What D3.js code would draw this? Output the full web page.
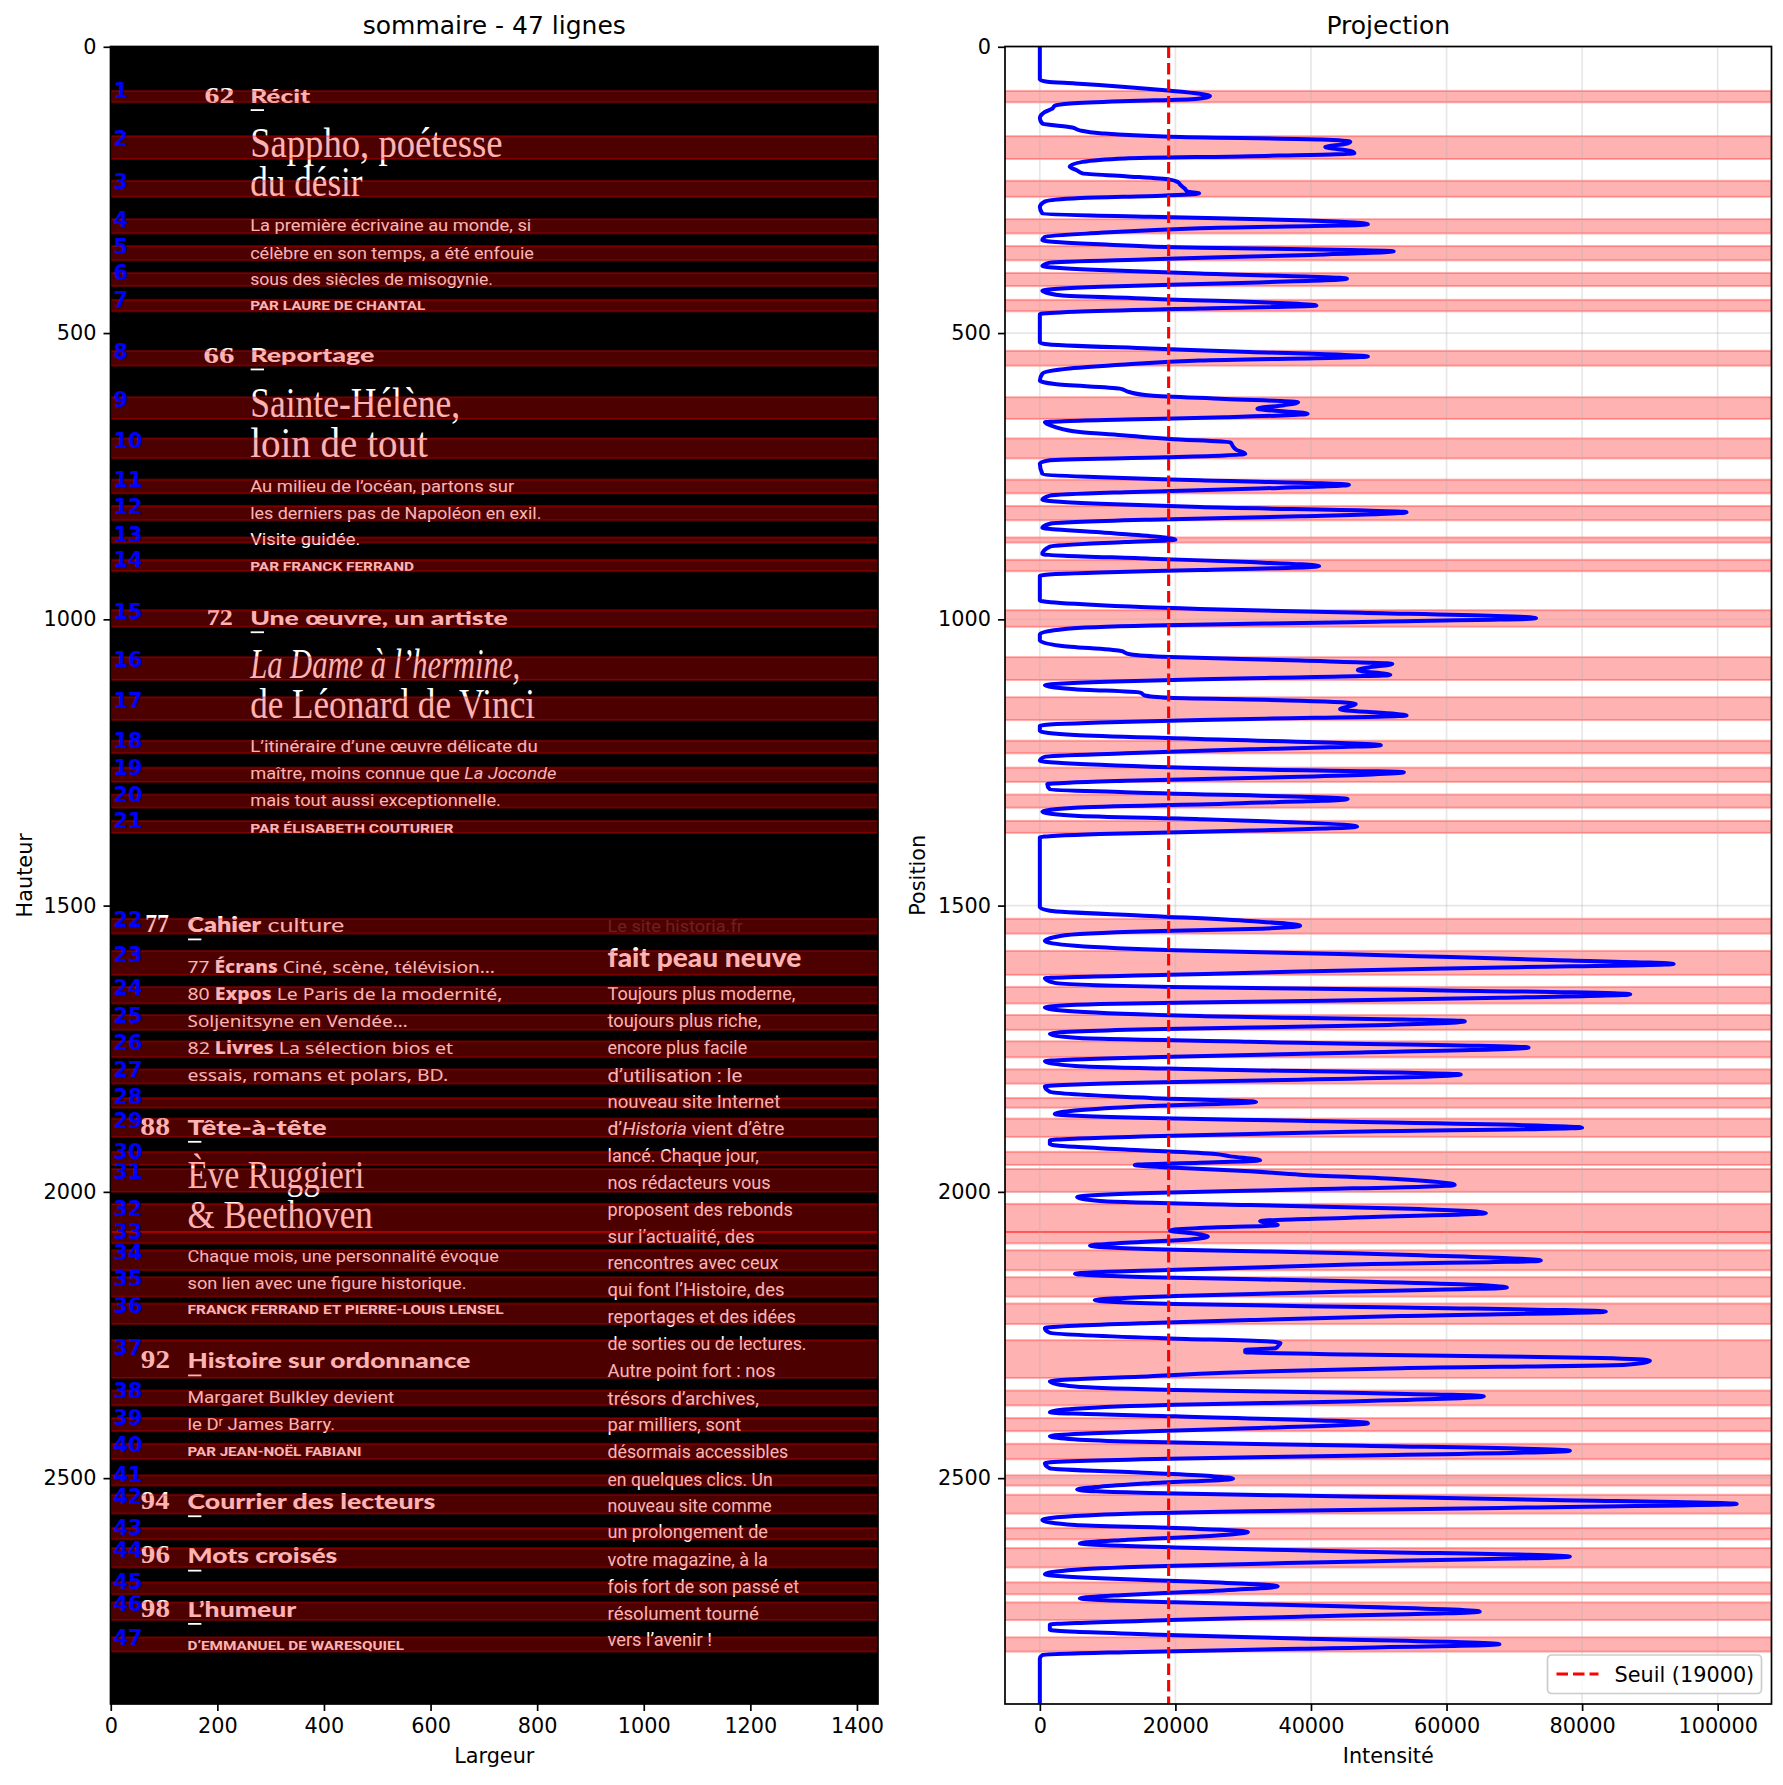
<!DOCTYPE html>
<html>
<head>
<meta charset="utf-8">
<script src="https://cdn.jsdelivr.net/npm/d3@7"></script>
<style>
  body { margin: 0; background: #fff; }
  svg { display: block; font-family: 'DejaVu Sans', sans-serif; }
</style>
</head>
<body>
<svg id="chart" width="1783" height="1785"></svg>
<script>
/* global d3 */

const imgWidth = 1440;
const imgHeight = 2895;
const threshold = 19000;

const xTicksImg = [0, 200, 400, 600, 800, 1000, 1200, 1400];
const yTicks = [0, 500, 1000, 1500, 2000, 2500];
const xTicksInt = [0, 20000, 40000, 60000, 80000, 100000];

// detected text lines [start, end] (rows of the page image)
const lineBands = [
  [77, 97], [156, 196], [234, 262], [301, 326], [348, 373], [395, 418], [442, 462],
  [531, 557], [612, 650], [684, 719], [756, 780], [802, 827], [857, 866], [896, 916],
  [984, 1013], [1066, 1106], [1136, 1176], [1212, 1234], [1259, 1284], [1306, 1329],
  [1352, 1373], [1523, 1549], [1579, 1621], [1642, 1671], [1691, 1717], [1737, 1765],
  [1786, 1811], [1836, 1853], [1872, 1904], [1930, 1953], [1960, 2000], [2021, 2070],
  [2070, 2090], [2102, 2137], [2149, 2183], [2195, 2231], [2259, 2325], [2347, 2373],
  [2395, 2418], [2440, 2467], [2495, 2513], [2529, 2562], [2587, 2607], [2622, 2656],
  [2682, 2703], [2717, 2748], [2778, 2803]
];

// horizontal projection [row, intensity]
const profile = [
  [0, 0], [57, 0], [61, 1100], [64, 5200], [76, 18500], [82, 23600], [86, 25100], [91, 23000],
  [95, 12000], [99, 4500], [103, 2200], [108, 1850], [114, 740], [125, 0], [134, 370],
  [141, 4800], [146, 5900], [151, 8900], [157, 19200], [162, 41400], [166, 45800], [170, 45000],
  [175, 42100], [182, 45800], [186, 46400], [191, 31000], [195, 12600], [201, 6300], [209, 4400],
  [216, 5500], [221, 6300], [226, 12600], [232, 19200], [236, 20300], [242, 20800], [248, 21400],
  [253, 21800], [256, 23500], [260, 18000], [264, 6000], [270, 800], [280, 0], [291, 370],
  [297, 16300], [303, 38400], [310, 48400], [317, 23600], [325, 8900], [332, 740], [338, 370],
  [345, 8900], [351, 23600], [355, 45800], [357, 52200], [364, 38400], [371, 16300], [377, 1500],
  [383, 370], [390, 8900], [396, 23600], [405, 45300], [412, 31000], [419, 8900], [426, 370],
  [434, 3000], [440, 16300], [452, 40800], [457, 23600], [463, 5200], [467, 0], [516, 0],
  [519, 740], [527, 16300], [533, 31000], [541, 48400], [548, 23600], [555, 12600], [562, 4400],
  [571, 370], [583, 0], [589, 2200], [597, 11800], [603, 13150], [609, 16300], [615, 27300],
  [621, 38100], [626, 36000], [632, 32100], [641, 39500], [647, 27300], [651, 12600], [656, 740],
  [664, 2200], [673, 5900], [679, 12600], [685, 19200], [691, 28100], [698, 28500], [704, 29000],
  [711, 30300], [717, 18500], [722, 1480], [728, 0], [746, 370], [752, 8900], [757, 23600],
  [765, 45600], [772, 31000], [778, 12600], [784, 1480], [791, 370], [798, 8900], [804, 23600],
  [813, 54100], [820, 38400], [826, 16300], [833, 1480], [840, 370], [848, 8900], [861, 20000],
  [865, 12600], [873, 1480], [886, 370], [894, 16300], [900, 31000], [907, 41200], [914, 23600],
  [918, 8900], [924, 0], [967, 0], [973, 5200], [982, 23600], [988, 45800], [998, 73200],
  [1005, 45800], [1011, 16300], [1017, 3700], [1026, 0], [1037, 0], [1046, 3000], [1055, 11800],
  [1061, 13300], [1066, 19200], [1072, 38400], [1078, 52000], [1084, 48500], [1089, 46900],
  [1097, 51700], [1103, 31000], [1108, 12600], [1115, 740], [1122, 5200], [1128, 14800],
  [1133, 15500], [1137, 19200], [1142, 38400], [1148, 46600], [1157, 44300], [1168, 54100],
  [1174, 31000], [1180, 8900], [1186, 0], [1195, 0], [1202, 5200], [1209, 23600], [1220, 50300],
  [1227, 31000], [1234, 12600], [1240, 740], [1247, 0], [1254, 8900], [1262, 31000],
  [1267, 53700], [1275, 38400], [1282, 12600], [1288, 1100], [1297, 1480], [1302, 12600],
  [1314, 45400], [1322, 27300], [1329, 5200], [1336, 370], [1343, 5200], [1349, 23600],
  [1362, 46800], [1369, 31000], [1375, 8900], [1381, 0], [1503, 0], [1509, 1480], [1518, 16300],
  [1527, 31000], [1535, 38400], [1541, 31000], [1545, 16300], [1553, 3000], [1562, 740],
  [1570, 5200], [1578, 20000], [1585, 45800], [1590, 60600], [1595, 75400], [1602, 93500],
  [1608, 68000], [1615, 38400], [1621, 19200], [1627, 740], [1635, 2200], [1642, 19200],
  [1647, 53200], [1655, 87100], [1661, 68000], [1668, 31000], [1672, 8900], [1678, 740],
  [1685, 5200], [1693, 23600], [1702, 62700], [1710, 45800], [1716, 16300], [1724, 1480],
  [1731, 5200], [1738, 31000], [1748, 72100], [1757, 45800], [1765, 16300], [1772, 740],
  [1780, 5200], [1786, 23600], [1795, 62100], [1804, 38400], [1809, 16300], [1816, 740],
  [1825, 1480], [1836, 16300], [1843, 31900], [1850, 16300], [1858, 5200], [1864, 2200],
  [1871, 16300], [1876, 38400], [1888, 80000], [1895, 45800], [1903, 16300], [1910, 1480],
  [1917, 1480], [1926, 12600], [1934, 25900], [1938, 28100], [1945, 32500], [1949, 23600],
  [1953, 14000], [1958, 20000], [1964, 31000], [1970, 38400], [1978, 53200], [1988, 61200],
  [1996, 38400], [2002, 16300], [2009, 5500], [2016, 8900], [2023, 31000], [2029, 53200],
  [2037, 65800], [2045, 45800], [2051, 32500], [2058, 35100], [2063, 23600], [2068, 19200],
  [2072, 22200], [2078, 24800], [2083, 22200], [2089, 12600], [2094, 7400], [2101, 20000],
  [2107, 45800], [2111, 56900], [2120, 73900], [2127, 45800], [2136, 20000], [2143, 5200],
  [2149, 16300], [2156, 45800], [2167, 68900], [2174, 45800], [2182, 20000], [2189, 8100],
  [2196, 20000], [2202, 53200], [2209, 83500], [2217, 53200], [2224, 31000], [2229, 16300],
  [2238, 740], [2246, 1480], [2256, 19200], [2261, 33300], [2264, 35500], [2270, 35100],
  [2273, 34800], [2276, 30300], [2280, 30300], [2284, 45800], [2290, 82800], [2295, 90000],
  [2302, 86500], [2308, 53200], [2316, 27300], [2322, 16300], [2331, 1480], [2340, 5200],
  [2346, 20000], [2351, 45800], [2357, 65500], [2366, 45800], [2372, 20000], [2379, 5200],
  [2385, 1480], [2392, 20000], [2404, 48400], [2413, 31000], [2418, 16300], [2427, 1480],
  [2436, 12600], [2443, 45800], [2452, 78200], [2461, 45800], [2466, 19200], [2474, 740],
  [2483, 1480], [2491, 16300], [2501, 28500], [2509, 16300], [2515, 8900], [2520, 5500],
  [2526, 16300], [2532, 45800], [2538, 75400], [2545, 102800], [2552, 68000], [2558, 31000],
  [2564, 8900], [2573, 370], [2582, 5200], [2587, 20000], [2594, 30700], [2602, 23600],
  [2608, 12600], [2614, 5900], [2621, 20000], [2628, 45800], [2637, 78200], [2646, 45800],
  [2653, 20000], [2660, 5200], [2668, 740], [2675, 8900], [2681, 23600], [2689, 35100],
  [2698, 23600], [2704, 12600], [2710, 5900], [2717, 20000], [2724, 45800], [2733, 64900],
  [2742, 38400], [2748, 19200], [2756, 1480], [2765, 1480], [2773, 16300], [2780, 38400],
  [2790, 67800], [2798, 38400], [2804, 12600], [2809, 370], [2815, 0], [2895, 0]
];

// page image text: [font, x start, x end, baseline row, size px, runs, heading mark]
const pageLines = [
  ['num', 176, 232, 98, 24, '62'],
  ['head', 261.5, 374, 98, 18, 'Récit', true],
  ['serif', 261.5, 735, 193, 43, 'Sappho, poétesse'],
  ['serif', 261.5, 472.5, 261, 43, 'du désir'],
  ['body', 261.5, 789, 322, 17, 'La première écrivaine au monde, si'],
  ['body', 261.5, 794, 370, 17, 'célèbre en son temps, a été enfouie'],
  ['body', 261.5, 717, 415.5, 17, 'sous des siècles de misogynie.'],
  ['caps', 261.5, 590, 460, 12.5, 'PAR LAURE DE CHANTAL'],
  ['num', 174, 232, 553, 24, '66'],
  ['head', 261.5, 494.5, 551, 18, 'Reportage', true],
  ['serif', 261.5, 655.5, 647, 42, 'Sainte-Hélène,'],
  ['serif', 261.5, 595, 717, 42, 'loin de tout'],
  ['body', 261.5, 757, 778, 17, 'Au milieu de l’océan, partons sur'],
  ['body', 261.5, 808, 824.5, 17, 'les derniers pas de Napoléon en exil.'],
  ['body', 261.5, 468.5, 870, 17, 'Visite guidée.'],
  ['caps', 261.5, 569, 916, 12.5, 'PAR FRANCK FERRAND'],
  ['num', 180, 229, 1010, 24, '72'],
  ['head', 261.5, 745, 1010, 19, 'Une œuvre, un artiste', true],
  ['serifI', 261.5, 768, 1102.5, 42, 'La Dame à l’hermine,'],
  ['serif', 261.5, 796, 1172.5, 42, 'de Léonard de Vinci'],
  ['body', 261.5, 801, 1232.5, 17, 'L’itinéraire d’une œuvre délicate du'],
  ['body', 261.5, 836, 1279, 17, [['maître, moins connue que ', 'n'], ['La Joconde', 'i']]],
  ['body', 261.5, 732, 1325.5, 17, 'mais tout aussi exceptionnelle.'],
  ['caps', 261.5, 643, 1372.5, 12.5, 'PAR ÉLISABETH COUTURIER'],
  ['num', 64.5, 109, 1546, 26, '77'],
  ['head', 144, 438, 1546.5, 20, [['Cahier', 'b'], [' culture', 'n']], true],
  ['faint', 932, 1186, 1546, 17, 'Le site historia.fr'],
  ['head', 932, 1295.5, 1607, 27, 'fait peau neuve'],
  ['round', 144, 721, 1617, 17, [['77 ', 'n'], ['Écrans', 'b'], [' Ciné, scène, télévision…', 'n']]],
  ['round', 144, 735, 1665, 17, [['80 ', 'n'], ['Expos', 'b'], [' Le Paris de la modernité,', 'n']]],
  ['round', 144, 557, 1712, 17, 'Soljenitsyne en Vendée…'],
  ['round', 144, 642, 1760, 17, [['82 ', 'n'], ['Livres', 'b'], [' La sélection bios et', 'n']]],
  ['round', 144, 633, 1806.5, 17, 'essais, romans et polars, BD.'],
  ['num', 55.5, 111, 1901, 26, '88'],
  ['head', 144, 405, 1900, 20, 'Tête-à-tête', true],
  ['serif', 144, 475.5, 1993, 39, 'Ève Ruggieri'],
  ['serif', 144, 491.5, 2063, 39, '& Beethoven'],
  ['body', 144, 728, 2122.5, 17, 'Chaque mois, une personnalité évoque'],
  ['body', 144, 667.5, 2169, 17, 'son lien avec une figure historique.'],
  ['caps', 144, 737, 2214, 13.5, 'FRANCK FERRAND ET PIERRE-LOUIS LENSEL'],
  ['num', 56.5, 111, 2308, 26, '92'],
  ['head', 144, 674.5, 2308, 21, 'Histoire sur ordonnance', true],
  ['body', 144, 532, 2369, 17, 'Margaret Bulkley devient'],
  ['body', 144, 421, 2415.5, 17, 'le Dʳ James Barry.'],
  ['caps', 144, 470.5, 2461, 13, 'PAR JEAN-NOËL FABIANI'],
  ['num', 56.5, 110, 2554, 26, '94'],
  ['head', 144, 609, 2554, 20, 'Courrier des lecteurs', true],
  ['num', 56.5, 111, 2649, 26, '96'],
  ['head', 144, 425, 2649, 21, 'Mots croisés', true],
  ['num', 56.5, 111, 2742, 26, '98'],
  ['head', 144, 348, 2742, 21, 'L’humeur', true],
  ['caps', 144, 550, 2800, 13, 'D’EMMANUEL DE WARESQUIEL'],
  ['body', 932, 1284.5, 1665.5, 18, 'Toujours plus moderne,'],
  ['body', 932, 1220, 1712, 18, 'toujours plus riche,'],
  ['body', 932, 1194, 1760, 18, 'encore plus facile'],
  ['body', 932, 1185, 1808, 18, 'd’utilisation : le'],
  ['body', 932, 1256, 1853, 18, 'nouveau site Internet'],
  ['body', 932, 1264, 1901, 18, [['d’', 'n'], ['Historia', 'i'], [' vient d’être', 'n']]],
  ['body', 932, 1216, 1947.5, 18, 'lancé. Chaque jour,'],
  ['body', 932, 1238, 1995, 18, 'nos rédacteurs vous'],
  ['body', 932, 1279.5, 2042.5, 18, 'proposent des rebonds'],
  ['body', 932, 1208, 2089, 18, 'sur l’actualité, des'],
  ['body', 932, 1253, 2135.5, 18, 'rencontres avec ceux'],
  ['body', 932, 1264, 2182, 18, 'qui font l’Histoire, des'],
  ['body', 932, 1285.5, 2229.5, 18, 'reportages et des idées'],
  ['body', 932, 1305.5, 2277, 18, 'de sorties ou de lectures.'],
  ['body', 932, 1247, 2324, 18, 'Autre point fort : nos'],
  ['body', 932, 1216, 2371.5, 18, 'trésors d’archives,'],
  ['body', 932, 1183, 2418, 18, 'par milliers, sont'],
  ['body', 932, 1271, 2465, 18, 'désormais accessibles'],
  ['body', 932, 1242, 2513, 18, 'en quelques clics. Un'],
  ['body', 932, 1240, 2559.5, 18, 'nouveau site comme'],
  ['body', 932, 1233, 2605, 18, 'un prolongement de'],
  ['body', 932, 1233, 2653, 18, 'votre magazine, à la'],
  ['body', 932, 1291.5, 2701, 18, 'fois fort de son passé et'],
  ['body', 932, 1216, 2747.5, 18, 'résolument tourné'],
  ['body', 932, 1128, 2794, 18, 'vers l’avenir !']
];

const fonts = {
  serif: { family: '"Liberation Serif", serif', weight: 400 },
  serifI: { family: '"Liberation Serif", serif', weight: 400, style: 'italic' },
  num: { family: '"Liberation Serif", serif', weight: 700 },
  head: { family: 'Lato, "Open Sans", sans-serif', weight: 900 },
  body: { family: 'Roboto, sans-serif', weight: 400 },
  caps: { family: 'Roboto, sans-serif', weight: 700 },
  round: { family: '"Noto Sans", sans-serif', weight: 400 },
  faint: { family: 'Roboto, sans-serif', weight: 400, opacity: 0.18 }
};

const tickFont = 20.8;
const plotTop = 46.5;
const plotBottom = 1704;

const svg = d3.select('#chart');

const yPos = d3.scaleLinear()
  .domain([-0.5, imgHeight - 0.5])
  .range([plotTop, plotBottom]);

const xImg = d3.scaleLinear()
  .domain([-0.5, imgWidth - 0.5])
  .range([110.5, 878]);

const maxIntensity = d3.max(profile, d => d[1]);
const xInt = d3.scaleLinear()
  .domain([-0.05 * maxIntensity, 1.05 * maxIntensity])
  .range([1005, 1771.5]);

const defs = svg.append('defs');
[['clip-left', xImg], ['clip-right', xInt]].forEach(([id, sc]) => {
  const [r0, r1] = sc.range();
  defs.append('clipPath').attr('id', id)
    .append('rect')
    .attr('x', r0).attr('y', plotTop)
    .attr('width', r1 - r0).attr('height', plotBottom - plotTop);
});

// ---------- left panel: page image with detected lines ----------
const left = svg.append('g').attr('clip-path', 'url(#clip-left)');

left.append('rect')
  .attr('x', xImg.range()[0])
  .attr('y', plotTop)
  .attr('width', xImg.range()[1] - xImg.range()[0])
  .attr('height', plotBottom - plotTop)
  .attr('fill', '#000');

const page = left.append('g').attr('class', 'page-text');

pageLines.forEach(([f, x0, x1, row, size, runs, mark]) => {
  const font = fonts[f];
  const txt = page.append('text')
    .attr('x', xImg(x0))
    .attr('y', yPos(row))
    .attr('font-family', font.family)
    .attr('font-weight', font.weight)
    .attr('font-style', font.style || 'normal')
    .attr('font-size', size)
    .attr('fill', '#fff')
    .attr('opacity', font.opacity || 1)
    .attr('textLength', xImg(x1) - xImg(x0))
    .attr('lengthAdjust', 'spacingAndGlyphs');

  const parts = typeof runs === 'string' ? [[runs, '']] : runs;
  parts.forEach(([t, mod]) => {
    const ts = txt.append('tspan').text(t);
    if (mod === 'b') ts.attr('font-weight', 800);
    if (mod === 'n' && f === 'head') ts.attr('font-weight', 400);
    if (mod === 'i') ts.attr('font-style', 'italic');
  });

  if (mark) {
    page.append('rect')
      .attr('x', xImg(x0 + 1))
      .attr('y', yPos(row + 11))
      .attr('width', xImg(x0 + 25) - xImg(x0))
      .attr('height', 1.8)
      .attr('fill', '#fff');
  }
});

const bandRect = (g, sc) => {
  g.selectAll('rect.band')
    .data(lineBands)
    .enter()
    .append('rect')
    .attr('class', 'band')
    .attr('x', sc.range()[0])
    .attr('width', sc.range()[1] - sc.range()[0])
    .attr('y', d => yPos(d[0]))
    .attr('height', d => yPos(d[1]) - yPos(d[0]))
    .attr('fill', 'red')
    .attr('fill-opacity', 0.3)
    .attr('stroke', 'red')
    .attr('stroke-opacity', 0.3)
    .attr('stroke-width', 2);
};

bandRect(left.append('g'), xImg);

left.append('g')
  .selectAll('text')
  .data(lineBands)
  .enter()
  .append('text')
  .attr('x', xImg(5))
  .attr('y', d => yPos(d[0] + 0.3 * (d[1] - d[0]) - 7))
  .attr('dy', '0.36em')
  .attr('font-size', tickFont)
  .attr('font-weight', 'bold')
  .attr('fill', 'blue')
  .text((d, i) => i + 1);

// ---------- right panel: projection ----------
const right = svg.append('g');

bandRect(right.append('g').attr('clip-path', 'url(#clip-right)'), xInt);

const grid = right.append('g')
  .attr('stroke', '#b0b0b0')
  .attr('stroke-opacity', 0.3)
  .attr('stroke-width', 1.7);

grid.selectAll('line.v')
  .data(xTicksInt)
  .enter()
  .append('line')
  .attr('class', 'v')
  .attr('x1', d => xInt(d)).attr('x2', d => xInt(d))
  .attr('y1', plotTop).attr('y2', plotBottom);
grid.selectAll('line.h')
  .data(yTicks)
  .enter()
  .append('line')
  .attr('class', 'h')
  .attr('x1', xInt.range()[0]).attr('x2', xInt.range()[1])
  .attr('y1', d => yPos(d)).attr('y2', d => yPos(d));

const projLine = d3.line()
  .x(d => xInt(d[1]))
  .y(d => yPos(d[0]))
  .curve(d3.curveMonotoneY);

right.append('path')
  .attr('clip-path', 'url(#clip-right)')
  .datum(profile)
  .attr('d', projLine)
  .attr('fill', 'none')
  .attr('stroke', 'blue')
  .attr('stroke-width', 4)
  .attr('stroke-linejoin', 'round');

right.append('line')
  .attr('x1', xInt(threshold)).attr('x2', xInt(threshold))
  .attr('y1', plotTop).attr('y2', plotBottom)
  .attr('stroke', 'red')
  .attr('stroke-width', 3.1)
  .attr('stroke-dasharray', '11.5,5');

// ---------- axes ----------
const styleAxis = g => {
  g.select('.domain').remove();
  g.selectAll('.tick line').attr('stroke', '#000').attr('stroke-width', 1.7);
  g.selectAll('.tick text')
    .attr('font-family', '"DejaVu Sans", sans-serif')
    .attr('font-size', tickFont)
    .attr('fill', '#000');
};

const plain = d3.format('d');

svg.append('g')
  .attr('transform', `translate(0,${plotBottom})`)
  .call(d3.axisBottom(xImg).tickValues(xTicksImg).tickFormat(plain).tickSize(7).tickPadding(7))
  .call(styleAxis);

svg.append('g')
  .attr('transform', `translate(${xImg.range()[0]},0)`)
  .call(d3.axisLeft(yPos).tickValues(yTicks).tickFormat(plain).tickSize(7).tickPadding(7))
  .call(styleAxis);

svg.append('g')
  .attr('transform', `translate(0,${plotBottom})`)
  .call(d3.axisBottom(xInt).tickValues(xTicksInt).tickFormat(plain).tickSize(7).tickPadding(7))
  .call(styleAxis);

svg.append('g')
  .attr('transform', `translate(${xInt.range()[0]},0)`)
  .call(d3.axisLeft(yPos).tickValues(yTicks).tickFormat(plain).tickSize(7).tickPadding(7))
  .call(styleAxis);

// spines
[xImg, xInt].forEach(sc => {
  svg.append('rect')
    .attr('x', sc.range()[0])
    .attr('y', plotTop)
    .attr('width', sc.range()[1] - sc.range()[0])
    .attr('height', plotBottom - plotTop)
    .attr('fill', 'none')
    .attr('stroke', '#000')
    .attr('stroke-width', 1.7);
});

// titles and labels
const midL = (xImg.range()[0] + xImg.range()[1]) / 2;
const midR = (xInt.range()[0] + xInt.range()[1]) / 2;
const midY = (plotTop + plotBottom) / 2;

const label = (x, y, t, size, rotate) => {
  svg.append('text')
    .attr('transform', `translate(${x},${y})${rotate ? ' rotate(-90)' : ''}`)
    .attr('text-anchor', 'middle')
    .attr('font-size', size)
    .attr('fill', '#000')
    .text(t);
};

label(midL, 34, 'sommaire - 47 lignes', 25);
label(midR, 34, 'Projection', 25);
label(midL, 1763, 'Largeur', tickFont);
label(midR, 1763, 'Intensité', tickFont);
label(32, midY, 'Hauteur', tickFont, true);
label(925, midY, 'Position', tickFont, true);

// legend
const legend = svg.append('g')
  .attr('transform', `translate(${xInt.range()[1] - 224},${plotBottom - 49})`);
legend.append('rect')
  .attr('width', 214).attr('height', 38.5)
  .attr('rx', 4)
  .attr('fill', '#fff').attr('fill-opacity', 0.8)
  .attr('stroke', '#ccc').attr('stroke-width', 1.7);
legend.append('line')
  .attr('x1', 9).attr('x2', 51)
  .attr('y1', 19).attr('y2', 19)
  .attr('stroke', 'red').attr('stroke-width', 3.1)
  .attr('stroke-dasharray', '11.5,5');
legend.append('text')
  .attr('x', 67).attr('y', 26.5)
  .attr('font-size', tickFont)
  .text(`Seuil (${threshold})`);
</script>
</body>
</html>
